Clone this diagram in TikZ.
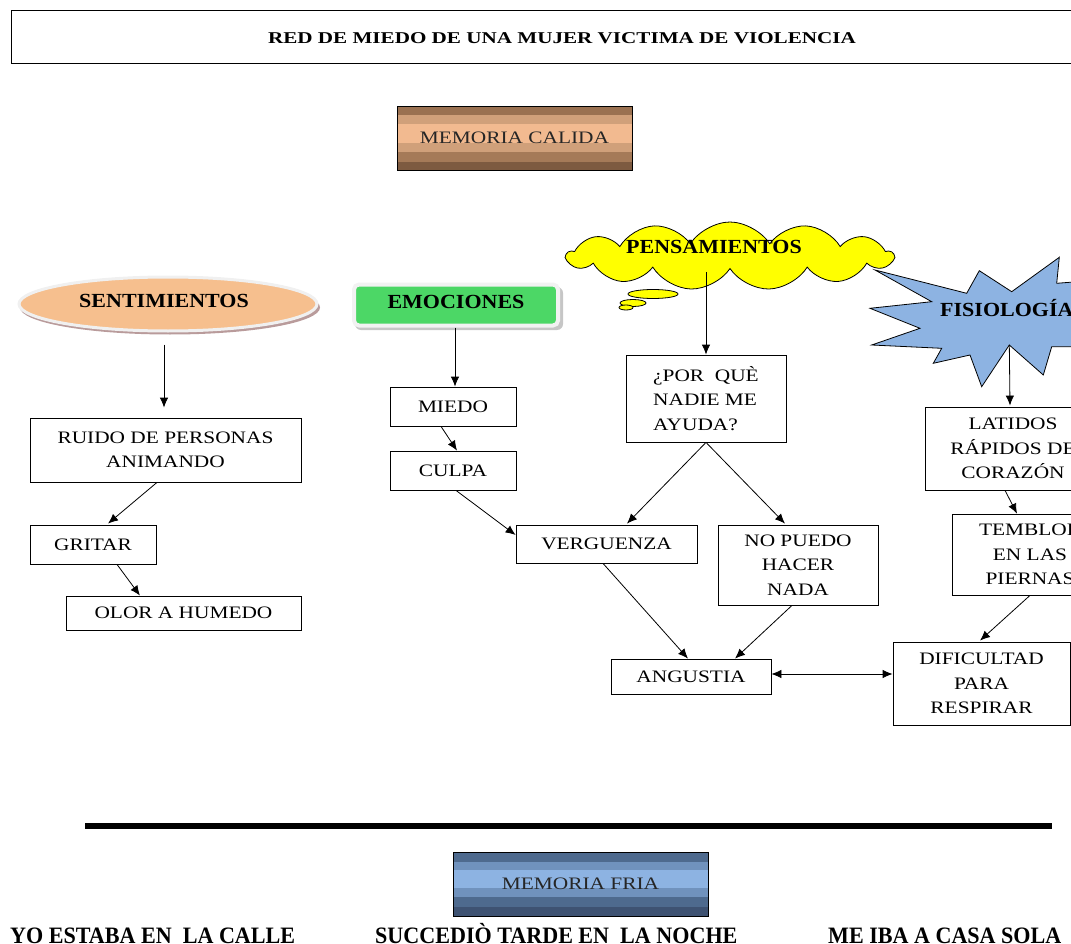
\documentclass[tikz,border=0pt]{standalone}
\usepackage{fontspec}
\setmainfont{Liberation Serif}
\newfontfamily\boxfont[FakeStretch=1.22]{Liberation Serif}
\newfontfamily\headfont[FakeStretch=1.1]{Liberation Serif}
\newfontfamily\titlefont[FakeStretch=1.28]{Liberation Serif}
\newfontfamily\factfont[FakeStretch=0.94]{Liberation Serif}
\usetikzlibrary{shapes.geometric,shapes.symbols,arrows.meta,calc}

\definecolor{calA}{HTML}{9A7151}
\definecolor{calB}{HTML}{D0A07A}
\definecolor{calC}{HTML}{F2BA90}
\definecolor{calD}{HTML}{A57A58}
\definecolor{calE}{HTML}{7D5A40}
\definecolor{friA}{HTML}{4E6A8E}
\definecolor{friB}{HTML}{7092BD}
\definecolor{friC}{HTML}{8DB3E2}
\definecolor{friD}{HTML}{3E5272}
\definecolor{sentfill}{HTML}{F6BF8E}
\definecolor{sentshadow}{HTML}{B99B9B}
\definecolor{emogreen}{HTML}{4CD766}
\definecolor{starblue}{HTML}{8DB3E2}
\definecolor{cloudyellow}{HTML}{FFFF00}

\tikzset{
  box/.style={draw, line width=0.8pt, inner sep=0pt, align=center,
    font=\boxfont\fontsize{17.5}{24.5}\selectfont},
  head/.style={inner sep=0pt, font=\headfont\bfseries\fontsize{20}{24}\selectfont},
  arr/.style={-{Latex[length=10pt,width=8.5pt]}, line width=0.8pt},
  darr/.style={{Latex[length=10pt,width=8.5pt]}-{Latex[length=10pt,width=8.5pt]}, line width=0.8pt},
  memo/.style={draw, line width=0.8pt, inner sep=0pt, text=black!85,
    font=\boxfont\fontsize{17.5}{24}\selectfont},
  bottomtext/.style={inner sep=0pt, anchor=base west,
    font=\factfont\bfseries\fontsize{23.5}{26}\selectfont}
}

\begin{document}
\begin{tikzpicture}[x=1pt,y=-1pt]
\useasboundingbox (0,0) rectangle (1071,944);
\clip (0,0) rectangle (1071,944);

% title
\node[draw, line width=0.8pt, minimum width=1090, minimum height=53, inner sep=0pt,
      anchor=north west] (titlebox) at (10.5,10.5) {};
\node[font=\titlefont\bfseries\fontsize{16.5}{20}\selectfont, inner sep=0pt] (title) at (562,38.5)
  {RED DE MIEDO DE UNA MUJER VICTIMA DE VIOLENCIA};

% warm memory banner
\foreach \ya/\yb/\c in {106/115/calA,115/124/calB,124/143/calC,143/152/calB,152/162/calD,162/170/calE}
  \fill[\c] (397,\ya) rectangle (632,\yb);
\node[memo, minimum width=235, minimum height=64] (calida) at (514.5,138) {MEMORIA CALIDA};

% feelings
\fill[sentshadow] (170,307.5) ellipse (150 and 27);
\node[ellipse, fill=sentfill, draw=gray!12, line width=3pt, minimum width=298,
      minimum height=54, inner sep=0pt] (sent) at (168,304) {};
\node[head] (sentl) at (164,301) {SENTIMIENTOS};

% emotions
\fill[gray!45, rounded corners=6pt] (355,287) rectangle (563,330);
\node[rounded corners=5pt, fill=emogreen, draw=gray!10, line width=4pt,
      minimum width=204, minimum height=41, inner sep=0pt] (emo) at (456,305) {};
\node[head] (emol) at (456,302) {EMOCIONES};

% physiology star
\draw[fill=starblue, line width=0.8pt]
  (875,270) -- (966.7,293.3) -- (979.3,270.7) -- (1011.7,291.7) -- (1059.3,257.3)
  -- (1056.7,283.3) -- (1100,280) -- (1100,346.7) -- (1051.7,346.7) -- (1043.3,375)
  -- (1009.3,345) -- (981.7,386.7) -- (970,355) -- (933.3,363.3) -- (941.7,348.3)
  -- (871.7,345) -- (920,328.3) -- (870,308.3) -- (931.7,301.7) -- cycle;
\coordinate (fisiobase) at (1009.3,345);
\node[head, anchor=west] (fisiol) at (940,308) {FISIOLOGÍA};

% thoughts cloud
\node[cloud, cloud puffs=13, cloud puff arc=115, aspect=4.8, draw, line width=0.8pt,
      fill=cloudyellow, minimum width=326, minimum height=68, inner sep=0pt] (pens) at (730,256) {};
\draw[fill=cloudyellow, line width=0.8pt] (653,294) ellipse (25 and 4.5);
\draw[fill=cloudyellow, line width=0.8pt] (633,303) ellipse (13 and 3.5);
\draw[fill=cloudyellow, line width=0.8pt] (626,307.5) ellipse (7 and 2.5);
\node[head] (pensl) at (714,246.5) {PENSAMIENTOS};

% boxes
\node[box, minimum width=271, minimum height=64] (ruido) at (165.5,450) {RUIDO DE PERSONAS\\ANIMANDO};
\node[box, minimum width=126, minimum height=39] (gritar) at (93,544.5) {GRITAR};
\node[box, minimum width=235, minimum height=34] (olor) at (183.5,613) {OLOR A HUMEDO};
\node[box, minimum width=126, minimum height=39] (miedo) at (453,406.5) {MIEDO};
\node[box, minimum width=126, minimum height=39] (culpa) at (453,470.5) {CULPA};
\node[box, minimum width=181, minimum height=38] (verg) at (606.5,544) {VERGUENZA};
\node[box, align=left, minimum width=160, minimum height=87] (porque) at (706,398.5) {¿POR\ \ QUÈ\\NADIE ME\\AYUDA?};
\node[box, minimum width=160, minimum height=80] (nopuedo) at (798,565) {NO PUEDO\\HACER\\NADA};
\node[box, minimum width=160, minimum height=35] (angustia) at (691,676.5) {ANGUSTIA};
\node[box, minimum width=177, minimum height=83] (dificultad) at (981.5,683.5) {DIFICULTAD\\PARA\\RESPIRAR};
\node[box, minimum width=176, minimum height=83] (latidos) at (1013,448.5) {LATIDOS\\RÁPIDOS DE\\CORAZÓN};
\node[box, minimum width=156, minimum height=81] (temblor) at (1030,554.5) {TEMBLOR\\EN LAS\\PIERNAS};

% connectors
\draw[arr] ($(sent.south)+(-4,12)$) -- ($(ruido.north)+(-1.5,-10)$);
\draw[arr] ($(ruido.south)+(-8.5,0)$) -- ($(gritar.north)+(15,-1)$);
\draw[arr] ($(gritar.south)+(24,0)$) -- ($(olor.north)+(-43.5,0)$);
\draw[arr] ($(emo.south)+(-1,0)$) -- ($(miedo.north)+(2,0)$);
\draw[arr] ($(miedo.south)+(-12,0)$) -- ($(culpa.north)+(4,0)$);
\draw[arr] ($(culpa.south)+(3,0)$) -- ($(verg.west)+(0,-9)$);
\draw[arr] ($(porque.north |- pens.south)+(0,3)$) -- (porque.north);
\draw[arr] (porque.south) -- ($(verg.north)+(20.5,-1)$);
\draw[arr] (porque.south) -- ($(nopuedo.north)+(-13,-1)$);
\draw[arr] ($(verg.south)+(-3.5,0)$) -- ($(angustia.north)+(-3,0)$);
\draw[arr] ($(nopuedo.south)+(-6,0)$) -- ($(angustia.north)+(44,0)$);
\draw[darr] ($(angustia.east)+(0,-2.5)$) -- ($(angustia.east -| dificultad.west)+(0,-2.5)$);
\draw[arr] (fisiobase) -- ($(latidos.north)+(-3,-1)$);
\draw[arr] ($(latidos.south)+(-8,0)$) -- ($(temblor.north)+(-13,0)$);
\draw[arr] (temblor.south) -- ($(dificultad.north)+(-1.5,-1)$);

% separator
\draw[line width=6pt] (85,826) -- (1052,826);

% cold memory banner
\foreach \ya/\yb/\c in {852/862/friA,862/870/friB,870/888/friC,888/897/friB,897/907/friA,907/916/friD}
  \fill[\c] (453,\ya) rectangle (708,\yb);
\node[memo, minimum width=255, minimum height=64] (fria) at (580.5,884) {MEMORIA FRIA};

% bottom facts
\node[bottomtext] (calle) at (10,943) {YO ESTABA EN\ \ LA CALLE};
\node[bottomtext] (noche) at (375,943) {SUCCEDIÒ TARDE EN\ \ LA NOCHE};
\node[bottomtext] (sola) at (828,943) {ME IBA A CASA SOLA};
\end{tikzpicture}
\end{document}
